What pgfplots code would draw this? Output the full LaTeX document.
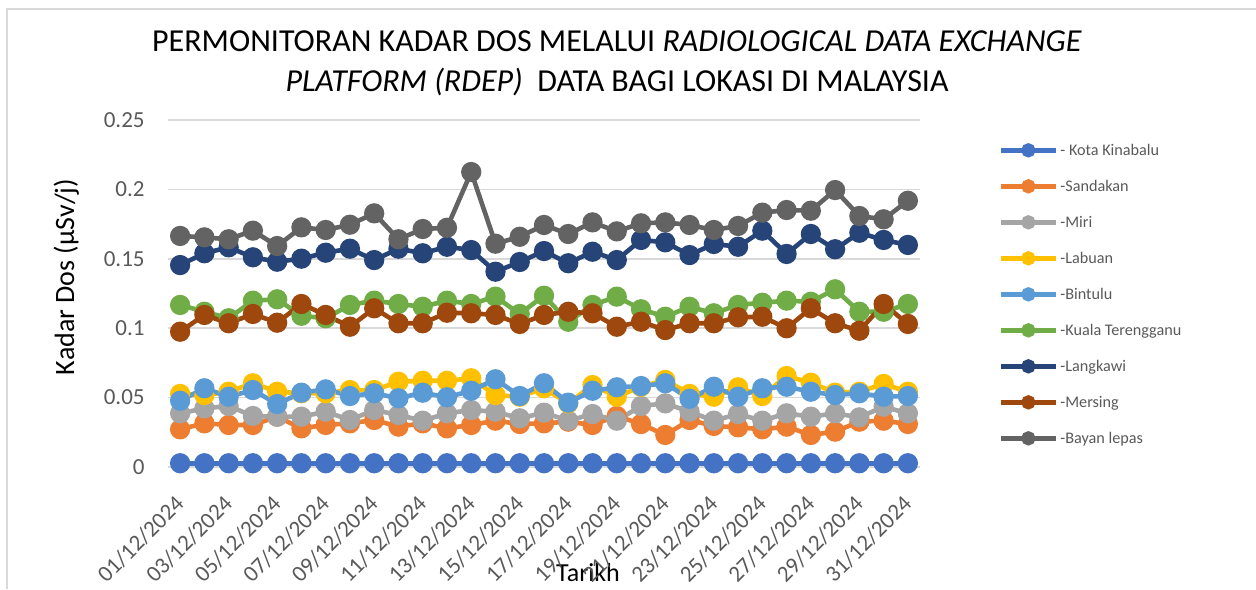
\documentclass[border=0pt]{standalone}
\usepackage{fontspec}
\setmainfont{Carlito}
\usepackage{pgfplots}
\usepackage{pgfplotstable}
\pgfplotsset{compat=1.18}

\definecolor{cKK}{HTML}{4472C4}
\definecolor{cSD}{HTML}{ED7D31}
\definecolor{cMR}{HTML}{A5A5A5}
\definecolor{cLB}{HTML}{FFC000}
\definecolor{cBT}{HTML}{5B9BD5}
\definecolor{cKT}{HTML}{70AD47}
\definecolor{cLK}{HTML}{264478}
\definecolor{cMS}{HTML}{9E480E}
\definecolor{cBL}{HTML}{636363}
\definecolor{gridgray}{HTML}{D9D9D9}
\definecolor{tickgray}{HTML}{595959}

\pgfplotstableread{
x KK SD MR LB BT KT LK MS BL
0 0.0025 0.0270 0.0385 0.0525 0.0476 0.1167 0.1455 0.0974 0.1665
1 0.0025 0.0313 0.0421 0.0517 0.0566 0.1118 0.1540 0.1095 0.1655
2 0.0025 0.0301 0.0438 0.0541 0.0505 0.1071 0.1583 0.1035 0.1641
3 0.0025 0.0301 0.0366 0.0602 0.0553 0.1198 0.1511 0.1102 0.1703
4 0.0025 0.0361 0.0361 0.0541 0.0452 0.1208 0.1479 0.1039 0.1592
5 0.0025 0.0277 0.0361 0.0530 0.0534 0.1089 0.1501 0.1174 0.1727
6 0.0025 0.0301 0.0397 0.0530 0.0558 0.1071 0.1544 0.1095 0.1708
7 0.0025 0.0313 0.0337 0.0553 0.0510 0.1167 0.1573 0.1010 0.1746
8 0.0025 0.0337 0.0409 0.0553 0.0530 0.1198 0.1491 0.1143 0.1828
9 0.0025 0.0289 0.0373 0.0613 0.0494 0.1174 0.1573 0.1035 0.1641
10 0.0025 0.0313 0.0332 0.0620 0.0534 0.1154 0.1540 0.1035 0.1715
11 0.0025 0.0277 0.0385 0.0620 0.0501 0.1198 0.1587 0.1111 0.1724
12 0.0025 0.0301 0.0409 0.0638 0.0548 0.1174 0.1563 0.1107 0.2126
13 0.0025 0.0332 0.0397 0.0517 0.0631 0.1227 0.1407 0.1095 0.1609
14 0.0025 0.0308 0.0349 0.0505 0.0510 0.1102 0.1477 0.1030 0.1659
15 0.0025 0.0313 0.0390 0.0566 0.0602 0.1234 0.1556 0.1095 0.1744
16 0.0025 0.0325 0.0332 0.0457 0.0462 0.1046 0.1468 0.1118 0.1679
17 0.0025 0.0301 0.0380 0.0589 0.0548 0.1167 0.1551 0.1107 0.1763
18 0.0025 0.0366 0.0332 0.0505 0.0573 0.1227 0.1491 0.1010 0.1698
19 0.0025 0.0308 0.0438 0.0577 0.0582 0.1136 0.1636 0.1046 0.1756
20 0.0025 0.0229 0.0457 0.0626 0.0602 0.1082 0.1619 0.0986 0.1763
21 0.0025 0.0337 0.0397 0.0525 0.0490 0.1154 0.1527 0.1035 0.1744
22 0.0025 0.0294 0.0332 0.0505 0.0577 0.1107 0.1607 0.1035 0.1708
23 0.0025 0.0284 0.0380 0.0573 0.0505 0.1167 0.1587 0.1078 0.1737
24 0.0025 0.0270 0.0332 0.0510 0.0566 0.1183 0.1703 0.1082 0.1833
25 0.0025 0.0289 0.0385 0.0654 0.0577 0.1198 0.1535 0.0999 0.1852
26 0.0025 0.0229 0.0361 0.0606 0.0541 0.1190 0.1679 0.1143 0.1847
27 0.0025 0.0253 0.0385 0.0534 0.0517 0.1280 0.1569 0.1035 0.1996
28 0.0025 0.0325 0.0356 0.0541 0.0530 0.1118 0.1688 0.0981 0.1809
29 0.0025 0.0332 0.0433 0.0597 0.0505 0.1118 0.1636 0.1174 0.1785
30 0.0025 0.0308 0.0385 0.0541 0.0510 0.1174 0.1600 0.1030 0.1919
}\datatable

\begin{document}
\begin{tikzpicture}
\useasboundingbox (0,0) rectangle (628pt,-294.5pt);
\draw[gridgray, line width=0.75pt] (3.5pt,-294.5pt) -- (3.5pt,-4.5pt) -- (628pt,-4.5pt);
\node[anchor=base, font=\fontsize{16}{19}\selectfont] at (308.5pt,-25.85pt)
  {PERMONITORAN KADAR DOS MELALUI \textit{RADIOLOGICAL DATA EXCHANGE}};
\node[anchor=base, font=\fontsize{16}{19}\selectfont] at (308.5pt,-45.85pt)
  {\textit{PLATFORM (RDEP)}\ \ DATA BAGI LOKASI DI MALAYSIA};
\node[anchor=base, rotate=90, font=\fontsize{14}{16}\selectfont] at (37pt,-138.5pt)
  {Kadar Dos (µSv/j)};
\node[anchor=base, font=\fontsize{13}{15}\selectfont] at (294pt,-290.85pt) {Tarikh};
\begin{axis}[
  at={(84pt,-233.35pt)}, anchor=south west,
  scale only axis, width=376pt, height=173.25pt,
  xmin=-0.5, xmax=30.5, ymin=0, ymax=0.25,
  clip=false,
  axis line style={draw=none},
  major tick length=0pt,
  ymajorgrids,
  major grid style={gridgray, line width=0.9pt},
  ytick={0,0.05,0.1,0.15,0.2,0.25},
  yticklabels={0,0.05,0.1,0.15,0.2,0.25},
  xtick={0,2,...,30},
  xticklabels={01/12/2024,03/12/2024,05/12/2024,07/12/2024,09/12/2024,11/12/2024,13/12/2024,15/12/2024,17/12/2024,19/12/2024,21/12/2024,23/12/2024,25/12/2024,27/12/2024,29/12/2024,31/12/2024},
  ticklabel style={font=\fontsize{11.5}{13}\selectfont, text=tickgray},
  yticklabel style={anchor=east, inner sep=0pt, xshift=-11.5pt},
  xticklabel style={yshift=-16.5pt, rotate=45, anchor=east, inner sep=0pt},
  legend cell align=left,
  legend style={at={(1.1037,0.4975)}, anchor=west, draw=none, fill=none,
    inner sep=0pt, row sep=6pt,
    font=\fontsize{8.1}{10}\selectfont, text=tickgray,
    nodes={inner sep=1pt, text height=0.75em, text depth=0.25em}},
  legend image code/.code={
    \draw[#1, line width=2.5pt, mark=none] (0pt,0pt) -- (27.5pt,0pt);
    \fill[#1] (13.75pt,0pt) circle (2.4pt);
  },
  every axis plot/.append style={line width=2.3pt, mark=*, mark size=3.9pt, mark options={solid}},
]
\addplot[color=cKK] table[x=x, y=KK] {\datatable};
\addlegendentry{- Kota Kinabalu}
\addplot[color=cSD] table[x=x, y=SD] {\datatable};
\addlegendentry{-Sandakan}
\addplot[color=cMR] table[x=x, y=MR] {\datatable};
\addlegendentry{-Miri}
\addplot[color=cLB] table[x=x, y=LB] {\datatable};
\addlegendentry{-Labuan}
\addplot[color=cBT] table[x=x, y=BT] {\datatable};
\addlegendentry{-Bintulu}
\addplot[color=cKT] table[x=x, y=KT] {\datatable};
\addlegendentry{-Kuala Terengganu}
\addplot[color=cLK] table[x=x, y=LK] {\datatable};
\addlegendentry{-Langkawi}
\addplot[color=cMS] table[x=x, y=MS] {\datatable};
\addlegendentry{-Mersing}
\addplot[color=cBL] table[x=x, y=BL] {\datatable};
\addlegendentry{-Bayan lepas}
\end{axis}
\end{tikzpicture}
\end{document}
